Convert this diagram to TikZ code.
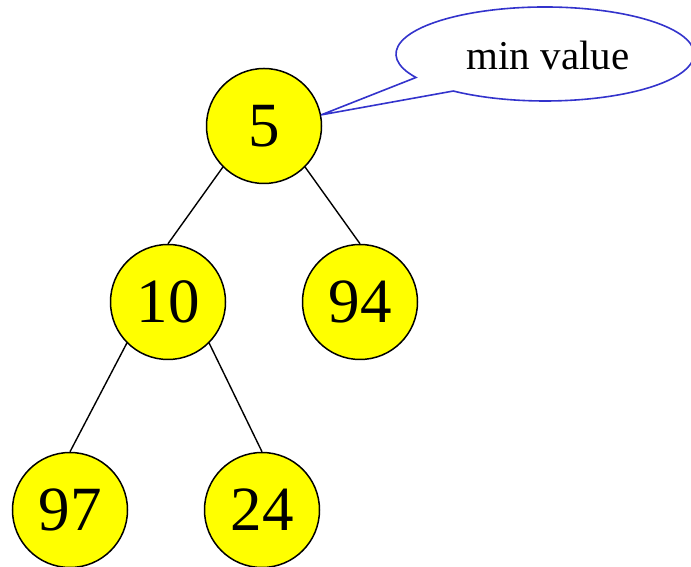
\documentclass[tikz,border=0pt]{standalone}
\usepackage{fontspec}
\setmainfont{Liberation Serif}
\usetikzlibrary{calc}
\definecolor{heapyellow}{RGB}{255,255,0}
\definecolor{callblue}{RGB}{51,51,204}
\tikzset{
  heapnode/.style={circle, draw=black, fill=heapyellow, line width=1.5pt, minimum size=115pt, inner sep=0pt, font=\fontsize{63}{70}\selectfont},
  treeedge/.style={draw=black, line width=1.4pt},
  callout/.style={draw=callblue, line width=1.6pt, fill=white}
}
\begin{document}
\begin{tikzpicture}[x=1pt,y=1pt]
\useasboundingbox (0,0) rectangle (691,567);
\clip (0,0) rectangle (691,567);
\node[heapnode] (n5)  at (264,441) {5};
\node[heapnode] (n10) at (168,265) {10};
\node[heapnode] (n94) at (360,265) {94};
\node[heapnode] (n97) at (70,57) {97};
\node[heapnode] (n24) at (262,57) {24};
\draw[treeedge] (n5.south west) -- (n10.north);
\draw[treeedge] (n5.south east) -- (n94.north);
\draw[treeedge] (n10.south west) -- (n97.north);
\draw[treeedge] (n10.south east) -- (n24.north);
\coordinate (cc) at (545,513);
\coordinate (tip) at (n5.11);
\draw[callout] (tip) -- ($(cc)+(210:149 and 47)$) arc[start angle=210, end angle=-128, x radius=149, y radius=47] -- cycle;
\node[anchor=base, inner sep=0pt, font=\fontsize{41}{48}\selectfont] (lbl) at (548,497) {min value};
\end{tikzpicture}
\end{document}
